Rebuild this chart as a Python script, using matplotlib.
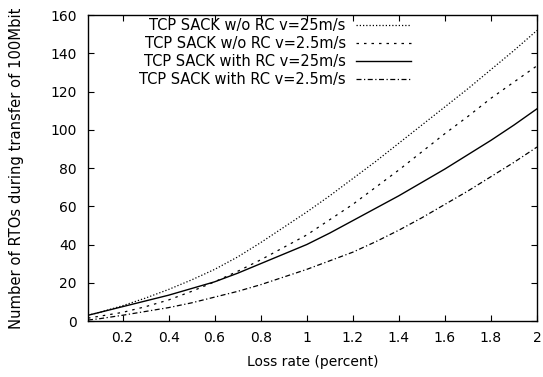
import numpy as np
import matplotlib
matplotlib.use('Agg')
import matplotlib.pyplot as plt

# loss rate (percent)
loss = [0.05, 0.1, 0.2, 0.3, 0.4, 0.5, 0.6, 0.7, 0.8, 0.9, 1.0,
        1.1, 1.2, 1.3, 1.4, 1.5, 1.6, 1.7, 1.8, 1.9, 2.0]

# number of RTOs during transfer of 100Mbit
noRC_25 = [3, 4.5, 8, 12, 16.5, 21.5, 27, 33.5, 41, 49, 57,
           65.5, 74.5, 83.5, 93, 102.5, 112, 121.5, 131.5, 141.5, 152]
noRC_2_5 = [1.5, 2.5, 4.5, 7.5, 11, 15.5, 20.5, 26, 32, 38.5, 45,
            53, 61, 70, 79, 88.5, 98, 107, 116.5, 125, 133.5]
RC_25 = [3, 4.5, 7.5, 10.5, 13.5, 17, 20.5, 25, 30, 35, 40,
         46, 52.5, 59, 65.5, 72.5, 79.5, 87, 94.5, 102.5, 111]
RC_2_5 = [0.5, 1.2, 3, 5, 7, 9.5, 12.5, 15.5, 19, 23, 27,
          31.5, 36, 41.5, 47.5, 54, 61, 68, 75.5, 83, 91]

labels = ['TCP SACK w/o RC v=25m/s', 'TCP SACK w/o RC v=2.5m/s',
          'TCP SACK with RC v=25m/s', 'TCP SACK with RC v=2.5m/s']

plt.rcParams['font.family'] = ['DejaVu Sans']
plt.rcParams['font.size'] = 10

fig = plt.figure(figsize=(5.43, 3.77), dpi=100)
ax = fig.add_axes([0.162, 0.1485, 0.827, 0.8115])

ax.plot(loss, noRC_25, color='black', lw=0.9, linestyle=(0, (1, 1.6)), label=labels[0])
ax.plot(loss, noRC_2_5, color='black', lw=0.9, linestyle=(0, (2, 4)), label=labels[1])
ax.plot(loss, RC_25, color='black', lw=1.0, linestyle='-', label=labels[2])
ax.plot(loss, RC_2_5, color='black', lw=0.9, linestyle=(0, (4, 2, 1, 2)), label=labels[3])

ax.set_xlim(0.05, 2)
ax.set_ylim(0, 160)
ax.set_xticks(np.arange(0.2, 2.01, 0.2))
ax.set_xticklabels(['%g' % round(t, 1) for t in np.arange(0.2, 2.01, 0.2)])
ax.set_yticks(range(0, 161, 20))
ax.tick_params(direction='in', top=True, right=True, length=4, width=0.8)
ax.tick_params(axis='x', pad=7)
ax.tick_params(axis='y', pad=8)
for s in ax.spines.values():
    s.set_linewidth(1.0)

ax.set_xlabel('Loss rate (percent)', labelpad=7.5)
ax.set_ylabel('Number of RTOs during transfer of 100Mbit', labelpad=19, fontsize=10.6)

ax.legend(loc='upper right', bbox_to_anchor=(0.746, 1.028), frameon=False,
          markerfirst=False, handlelength=3.8, handletextpad=0.7,
          labelspacing=0.2, borderpad=0.3, fontsize=10.5)

fig.savefig('out.png', dpi=100)
